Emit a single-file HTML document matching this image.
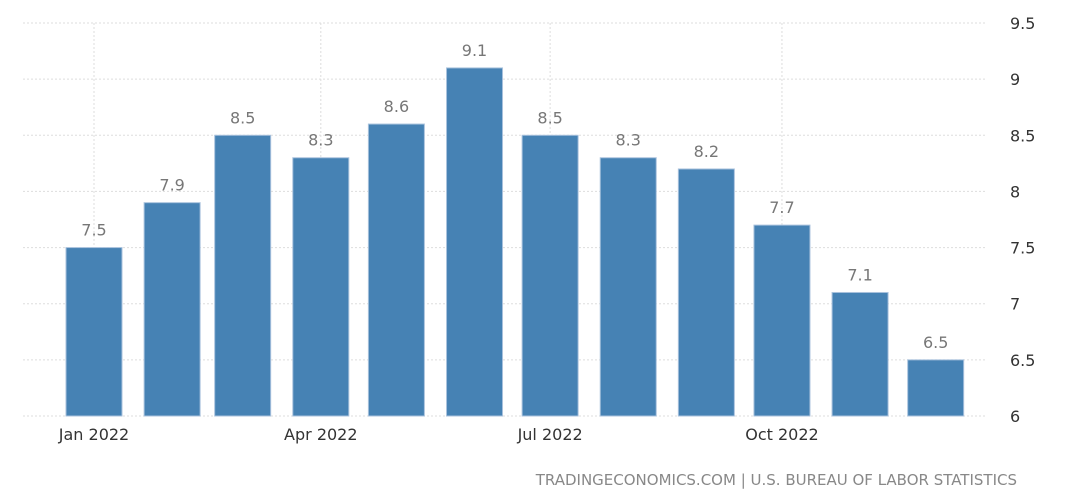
<!DOCTYPE html>
<html><head><meta charset="utf-8"><style>
body{margin:0;background:#fff;}
svg{display:block;font-family:"DejaVu Sans","Liberation Sans",sans-serif;}
</style></head><body>
<svg id="chart" width="1081" height="502">
<g id="grid"></g><g id="bars"></g><g id="labels"></g><g id="axes"></g>
<text x="1017" y="485" text-anchor="end" font-size="15" fill="#888">TRADINGECONOMICS.COM | U.S. BUREAU OF LABOR STATISTICS</text>
</svg>
<script>
const months = ["2022-01-01","2022-02-01","2022-03-01","2022-04-01","2022-05-01","2022-06-01","2022-07-01","2022-08-01","2022-09-01","2022-10-01","2022-11-01","2022-12-01"];
const values = [7.5,7.9,8.5,8.3,8.6,9.1,8.5,8.3,8.2,7.7,7.1,6.5];
const yTicks = [6,6.5,7,7.5,8,8.5,9,9.5];
const xTickDates = ["2022-01-01","2022-04-01","2022-07-01","2022-10-01"];
const xTickLabels = ["Jan 2022","Apr 2022","Jul 2022","Oct 2022"];
const NS="http://www.w3.org/2000/svg";
const t0=Date.parse("2022-01-01");
function x(d){return 94+(Date.parse(d)-t0)/86400000*2.52;}
function y(v){return 416-(v-6)*(393/3.5);}
function mk(tag,attrs,parent){const e=document.createElementNS(NS,tag);for(const k in attrs)e.setAttribute(k,attrs[k]);document.getElementById(parent).appendChild(e);return e;}
yTicks.forEach(v=>{
  const l=mk("line",{x1:23,x2:985,y1:y(v),y2:y(v),stroke:"#ddd","stroke-dasharray":"2,2"},"grid");
  
  
  const t=mk("text",{x:1010,y:y(v)+6,"font-size":16,fill:"#333"},"axes");
  t.textContent=v;
  
  
});
xTickDates.forEach((d,i)=>{
  const l=mk("line",{x1:x(d),x2:x(d),y1:23,y2:416,stroke:"#ddd","stroke-dasharray":"2,2"},"grid");
  
  
  const t=mk("text",{x:x(d),y:440,"font-size":16,fill:"#333","text-anchor":"middle"},"axes");
  t.textContent=xTickLabels[i];
  
  
});
months.forEach((d,i)=>{
  const cx=x(d),v=values[i];
  const r=mk("rect",{x:cx-28,y:y(v),width:56,height:416-y(v),fill:"#4682b4",stroke:"#a9c2dd","stroke-width":1},"bars");
  
  
  const t=mk("text",{x:cx,y:y(v)-12,"font-size":16,fill:"#777","text-anchor":"middle"},"labels");
  t.textContent=v.toFixed(1);
  
  
});
</script>
</body></html>
